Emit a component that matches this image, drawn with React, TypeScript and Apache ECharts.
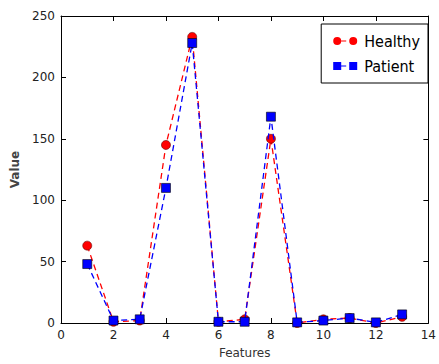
import React, { useEffect, useRef } from "react";
import * as echarts from "echarts";

const features = [1, 2, 3, 4, 5, 6, 7, 8, 9, 10, 11, 12, 13];
const healthy = [63, 1, 2, 145, 233, 1, 3, 150, 0, 3, 4, 0, 5];
const patient = [48, 2, 3, 110, 228, 1, 1, 168, 0.5, 2, 4, 0.5, 7];
const seriesNames = ["Healthy", "Patient"];
const xTicks = { min: 0, max: 14, interval: 2 };
const yTicks = { min: 0, max: 250, interval: 50 };

const FONT = "DejaVu Sans";
const LEGEND_FONT = "'DejaVu Sans Condensed', 'Liberation Sans Narrow', 'DejaVu Sans'";

const circleIcon =
  "path://M1,5a4,4 0 1,0 8,0a4,4 0 1,0 -8,0Z M9,4.4h5v1.2h-5Z M17,5a4,4 0 1,0 8,0a4,4 0 1,0 -8,0Z";
const squareIcon =
  "path://M1,1h8v8h-8Z M9,4.4h5v1.2h-5Z M17,1h8v8h-8Z";

export default function App() {
  const ref = useRef<HTMLDivElement>(null);
  useEffect(() => {
    document.body.style.margin = "0";
    const chart = echarts.init(ref.current!, undefined, { renderer: "svg" });
    const axisCommon = {
      type: "value" as const,
      splitLine: { show: false },
      axisLine: { show: true, onZero: false, lineStyle: { color: "#000", width: 1 } },
      axisTick: { show: true, inside: true, length: 5, lineStyle: { color: "#000" } },
    };
    chart.setOption({
      animation: false,
      backgroundColor: "#fff",
      textStyle: { fontFamily: FONT },
      grid: { left: 61, top: 16, right: 6, bottom: 39 },
      legend: {
        orient: "vertical",
        right: 11,
        top: 24,
        padding: [9, 8, 9, 12],
        itemGap: 9,
        itemWidth: 24,
        itemHeight: 10,
        borderColor: "#000",
        borderWidth: 1,
        backgroundColor: "#fff",
        itemStyle: { borderWidth: 0 },
        textStyle: { fontFamily: LEGEND_FONT, fontSize: 16, color: "#000", padding: [0, 0, 0, 2] },
        data: [
          { name: seriesNames[0], icon: circleIcon },
          { name: seriesNames[1], icon: squareIcon },
        ],
      },
      xAxis: [
        {
          ...axisCommon,
          ...xTicks,
          position: "bottom",
          name: "Features",
          nameLocation: "middle",
          nameGap: 24,
          nameTextStyle: { fontFamily: FONT, fontSize: 12, color: "#333" },
          axisLabel: { fontFamily: FONT, fontSize: 12, color: "#222", margin: 6 },
        },
        {
          ...axisCommon,
          ...xTicks,
          position: "top",
          axisLabel: { show: false },
        },
      ],
      yAxis: [
        {
          ...axisCommon,
          ...yTicks,
          position: "left",
          name: "Value",
          nameLocation: "middle",
          nameGap: 28,
          nameTextStyle: { fontFamily: FONT, fontSize: 12, color: "#444", fontWeight: "bold" },
          axisLabel: { fontFamily: FONT, fontSize: 12, color: "#222", margin: 6 },
        },
        {
          ...axisCommon,
          ...yTicks,
          position: "right",
          axisLabel: { show: false },
        },
      ],
      series: [
        {
          name: seriesNames[0],
          type: "line",
          data: features.map((f, i) => [f, healthy[i]]),
          symbol: "circle",
          symbolSize: 9,
          itemStyle: { color: "#ff0000", borderColor: "#600", borderWidth: 0.6 },
          lineStyle: { color: "#ff0000", width: 1.3, type: [6, 4] },
          z: 2,
        },
        {
          name: seriesNames[1],
          type: "line",
          data: features.map((f, i) => [f, patient[i]]),
          symbol: "rect",
          symbolSize: 9,
          itemStyle: { color: "#0000ff", borderColor: "#000", borderWidth: 0.6 },
          lineStyle: { color: "#0000ff", width: 1.3, type: [6, 4] },
          z: 3,
        },
      ],
    });
    return () => chart.dispose();
  }, []);
  return <div ref={ref} style={{ width: 439, height: 364 }} />;
}
